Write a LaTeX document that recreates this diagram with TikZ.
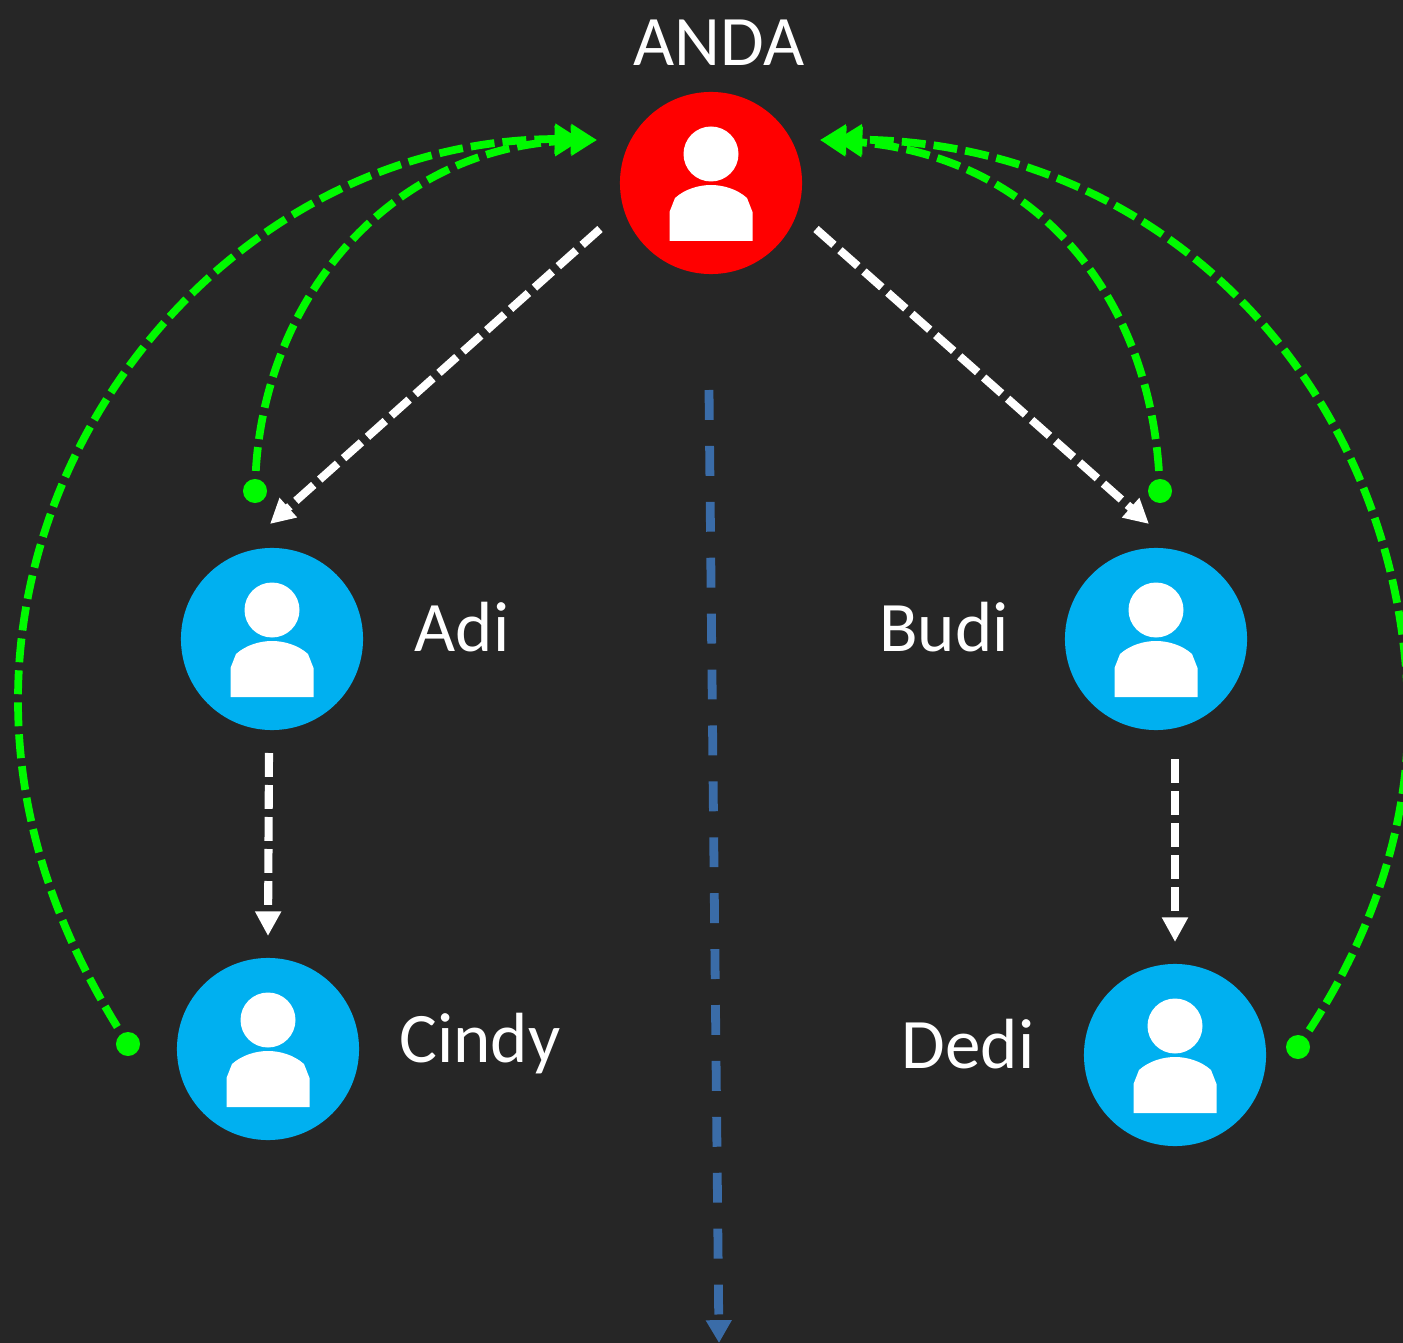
\documentclass[tikz,border=0pt]{standalone}
\usepackage{fontspec}
\setmainfont{Carlito}
\usetikzlibrary{arrows.meta}
\definecolor{bgdark}{HTML}{262626}
\definecolor{userblue}{HTML}{00B0F0}
\definecolor{linkgreen}{HTML}{00FA00}
\definecolor{linkblue}{HTML}{3A6CA8}
\tikzset{
  usernode/.style={circle,fill=#1,minimum size=1.82cm,inner sep=0pt,outer sep=0pt},
  dotnode/.style={circle,fill=linkgreen,minimum size=0.24cm,inner sep=0pt,outer sep=0pt},
  namelabel/.style={text=white,font=\fontsize{20.2}{24}\selectfont,inner sep=0pt},
  whitelink/.style={line width=2.3pt,color=white,dash pattern=on 6.8pt off 2.3pt,-{Triangle[length=7pt,width=7pt]}},
  greenlink/.style={line width=2.2pt,color=linkgreen,dash pattern=on 6.8pt off 2.3pt,dash phase=6.8pt,-{Triangle[length=7.4pt,width=8.2pt,sep=-2.8pt]Triangle[length=7.4pt,width=8.2pt]}},
  bluelink/.style={line width=2.5pt,color=linkblue,dash pattern=on 8.5pt off 7.4pt,-{Triangle[length=6.5pt,width=7pt]}},
  usericon/.pic={
    \fill [white] (0,-29) circle (27.5);
    \fill [white] (-41.5,58) -- (-41.5,29) -- (-36,15) .. controls (-26,6) and (-12,2) .. (0,2) .. controls (12,2) and (26,6) .. (36,15) -- (41.5,29) -- (41.5,58) -- cycle;
  }
}
\begin{document}
\begin{tikzpicture}[x=0.01cm,y=-0.01cm]
\useasboundingbox (0,0) rectangle (1403,1343);
\clip (0,0) rectangle (1403,1343);
\fill [bgdark] (0,0) rectangle (1403,1343);
\node [usernode=red] (anda) at (711,183) {};
\node [usernode=userblue] (adi) at (272,639) {};
\node [usernode=userblue] (budi) at (1156,639) {};
\node [usernode=userblue] (cindy) at (268,1049) {};
\node [usernode=userblue] (dedi) at (1175,1055) {};
\pic at (anda) {usericon};
\pic at (adi) {usericon};
\pic at (budi) {usericon};
\pic at (cindy) {usericon};
\pic at (dedi) {usericon};
\node [namelabel] (andalabel) at (719,43) {ANDA};
\node [namelabel] (adilabel) at (462,627) {Adi};
\node [namelabel] (budilabel) at (944,627) {Budi};
\node [namelabel] (cindylabel) at (480,1044) {Cindy};
\node [namelabel] (dedilabel) at (968,1044) {Dedi};
\node [dotnode] (adidot) at (255,491) {};
\node [dotnode] (budidot) at (1160,491) {};
\node [dotnode] (cindydot) at (128,1044) {};
\node [dotnode] (dedidot) at (1298,1047) {};
\coordinate (andaleft) at (600,229);
\coordinate (andaright) at (816,229);
\coordinate (adiin) at (270,524);
\coordinate (budiin) at (1149,524);
\coordinate (adiout) at (269,753);
\coordinate (cindyin) at (268,936);
\coordinate (budiout) at (1175,759);
\coordinate (dediin) at (1175,942);
\coordinate (linetop) at (709,390);
\coordinate (linebottom) at (719,1343);
\coordinate (lefttip) at (597,140);
\coordinate (righttip) at (820,140);
\draw [whitelink] (andaleft) -- (adiin);
\draw [whitelink] (andaright) -- (budiin);
\draw [whitelink] (adiout) -- (cindyin);
\draw [whitelink] (budiout) -- (dediin);
\draw [bluelink] (linetop) -- (linebottom);
\draw [greenlink] (adidot) .. controls (262,300) and (390,145) .. (lefttip);
\draw [greenlink] (cindydot) .. controls (50,920) and (18,810) .. (18,700) .. controls (18,400) and (270,130) .. (lefttip);
\draw [greenlink] (budidot) .. controls (1150,290) and (1030,150) .. (righttip);
\draw [greenlink] (dedidot) .. controls (1370,940) and (1408,830) .. (1408,720) .. controls (1408,400) and (1170,135) .. (righttip);
\end{tikzpicture}
\end{document}
